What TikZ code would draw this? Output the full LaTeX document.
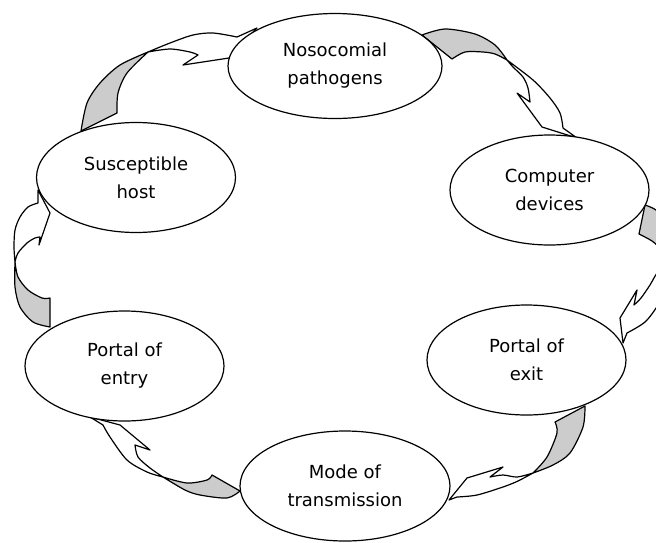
\documentclass[tikz,border=0pt]{standalone}
\usepackage{fontspec}
\setmainfont{DejaVu Sans}
\usetikzlibrary{shapes.geometric}

\begin{document}
\begin{tikzpicture}[x=1pt, y=-1pt, line width=1.2pt, line join=round,
    stage/.style={ellipse, draw, fill=white, inner sep=0pt, align=center, font=\fontsize{18}{28}\selectfont, minimum width=199pt, minimum height=110pt},
    band/.style={draw, fill=white},
    fold/.style={draw, fill=gray!40}]
  \path[use as bounding box] (0,0) rectangle (656,542);
  \clip (0,0) rectangle (656,542);

  \filldraw[fold] plot[smooth] coordinates {(81,131) (87,103) (100,83) (120,65) (148,52)} -- plot[smooth] coordinates {(148,52) (127,73) (118,93) (117,113)} -- cycle;
  \filldraw[band] plot[smooth] coordinates {(148,52) (170,43) (193,35) (213,33) (237,37)} -- (257,28) -- (229,58) -- (183,65) -- (198,55) -- plot[smooth] coordinates {(198,55) (190,52) (170,49) (148,52)} -- cycle;

  \filldraw[fold] plot[smooth] coordinates {(422,35) (445,29) (475,34) (495,45) (507,60)} -- plot[smooth] coordinates {(507,60) (495,54) (483,52) (465,52) (452,59)} -- cycle;
  \filldraw[band] plot[smooth] coordinates {(507,60) (533,80) (550,98) (560,113) (563,128)} -- (577,138) -- (542,127) -- (517,93) -- (530,102) -- plot[smooth] coordinates {(530,102) (528,88) (523,77) (513,67) (507,60)} -- cycle;

  \filldraw[fold] plot[smooth] coordinates {(645,205) (656,210) (666,222) (672,242) (672,262)} -- plot[smooth] coordinates {(672,262) (662,250) (652,241) (639,234)} -- cycle;
  \filldraw[band] plot[smooth] coordinates {(672,262) (668,285) (658,305) (645,322) (627,333)} -- (623,343) -- (620,318) -- (637,290) -- (634,305) -- plot[smooth] coordinates {(634,305) (641,298) (650,285) (658,272) (672,262)} -- cycle;

  \filldraw[fold] plot[smooth] coordinates {(585,406) (583,427) (570,453) (553,465) (533,473)} -- plot[smooth] coordinates {(533,473) (547,457) (557,433) (555,422)} -- cycle;
  \filldraw[band] plot[smooth] coordinates {(533,473) (518,481) (503,487) (477,495) (457,497)} -- (449,500) -- (467,478) -- (503,467) -- (490,477) -- plot[smooth] coordinates {(490,477) (503,475) (517,477) (533,473)} -- cycle;

  \filldraw[fold] plot[smooth] coordinates {(240,491) (227,498) (200,495) (185,490) (163,477)} -- plot[smooth] coordinates {(163,477) (187,483) (207,480) (212,475)} -- cycle;
  \filldraw[band] plot[smooth] coordinates {(163,477) (147,472) (127,460) (110,437) (103,425)} -- (90,417) -- (120,425) -- (150,450) -- (135,445) -- plot[smooth] coordinates {(135,445) (138,457) (150,468) (163,477)} -- cycle;

  \filldraw[fold] plot[smooth] coordinates {(50,327) (33,322) (20,307) (15,287) (15,262)} -- plot[smooth] coordinates {(15,262) (18,277) (28,290) (42,298) (50,298)} -- cycle;
  \filldraw[band] plot[smooth] coordinates {(15,262) (14,247) (15,230) (20,217) (28,207) (38,203)} -- (38,190) -- (50,213) -- (39,245) -- (40,237) -- plot[smooth] coordinates {(40,237) (35,238) (27,243) (18,253) (15,262)} -- cycle;

  \node[stage, minimum width=214pt, minimum height=105pt] (pathogen) at (335,66) {Nosocomial\\pathogens};
  \node[stage] (device) at (549.5,190) {Computer\\devices};
  \node[stage] (exit) at (526.5,360) {Portal of\\exit};
  \node[stage, minimum width=210pt] (mode) at (345,486) {Mode of\\transmission};
  \node[stage] (entry) at (124.5,366) {Portal of\\entry};
  \node[stage] (host) at (136,177.5) {Susceptible\\host};
\end{tikzpicture}
\end{document}
